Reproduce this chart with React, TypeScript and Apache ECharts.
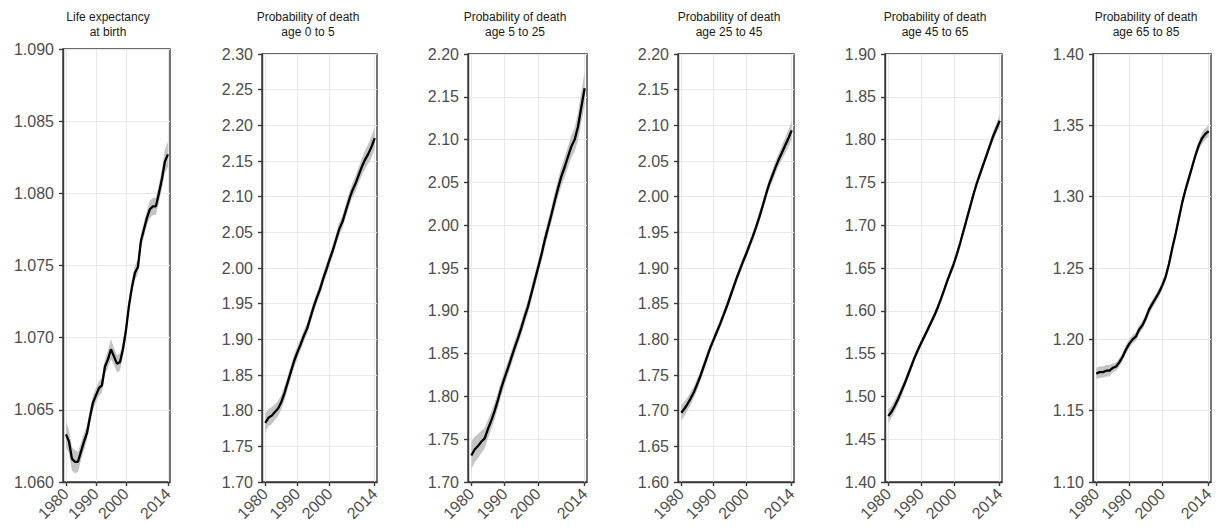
import React, { useEffect, useRef } from 'react';
import * as echarts from 'echarts';

const years = [1980, 1981, 1982, 1983, 1984, 1985, 1986, 1987, 1988, 1989, 1990, 1991, 1992, 1993, 1994, 1995, 1996, 1997, 1998, 1999, 2000, 2001, 2002, 2003, 2004, 2005, 2006, 2007, 2008, 2009, 2010, 2011, 2012, 2013, 2014];
const xTickYears = [1980, 1990, 2000, 2014];

const panelTitles = [
  'Life expectancy\nat birth',
  'Probability of death\nage 0 to 5',
  'Probability of death\nage 5 to 25',
  'Probability of death\nage 25 to 45',
  'Probability of death\nage 45 to 65',
  'Probability of death\nage 65 to 85',
];
const yMins = [1.06, 1.7, 1.7, 1.6, 1.4, 1.1];
const yMaxs = [1.09, 2.3, 2.2, 2.2, 1.9, 1.4];
const yIntervals = [0.005, 0.05, 0.05, 0.05, 0.05, 0.05];
const yDecimals = [3, 2, 2, 2, 2, 2];

const lifeExpBirth = [1.0633, 1.0628, 1.0616, 1.0614, 1.0614, 1.0621, 1.0628, 1.0634, 1.0645, 1.0655, 1.066, 1.0665, 1.0667, 1.068, 1.0685, 1.0692, 1.0687, 1.0682, 1.0683, 1.0692, 1.0705, 1.0722, 1.0735, 1.0745, 1.0749, 1.0767, 1.0775, 1.0783, 1.0789, 1.0791, 1.0791, 1.08, 1.081, 1.0822, 1.0827];
const lifeExpBirthBand = [0.0009, 0.0008, 0.0008, 0.0008, 0.0007, 0.0006, 0.0006, 0.0005, 0.0005, 0.0005, 0.0005, 0.0005, 0.0005, 0.0005, 0.0006, 0.0007, 0.0006, 0.0006, 0.0006, 0.0005, 0.0005, 0.0005, 0.0005, 0.0005, 0.0005, 0.0005, 0.0005, 0.0005, 0.0006, 0.0006, 0.0006, 0.0006, 0.0007, 0.0008, 0.0009];

const death0to5 = [1.783, 1.79, 1.793, 1.798, 1.803, 1.812, 1.825, 1.84, 1.855, 1.87, 1.882, 1.893, 1.905, 1.915, 1.93, 1.945, 1.958, 1.97, 1.985, 1.998, 2.012, 2.025, 2.04, 2.055, 2.065, 2.08, 2.095, 2.108, 2.118, 2.13, 2.142, 2.152, 2.16, 2.17, 2.182];
const death0to5Band = [0.013, 0.012, 0.012, 0.011, 0.011, 0.01, 0.01, 0.009, 0.009, 0.009, 0.009, 0.008, 0.008, 0.008, 0.008, 0.008, 0.008, 0.008, 0.008, 0.008, 0.008, 0.008, 0.008, 0.009, 0.009, 0.009, 0.01, 0.01, 0.011, 0.011, 0.012, 0.013, 0.014, 0.015, 0.016];

const death5to25 = [1.731, 1.738, 1.742, 1.747, 1.751, 1.762, 1.772, 1.783, 1.796, 1.81, 1.822, 1.833, 1.845, 1.857, 1.868, 1.88, 1.893, 1.905, 1.92, 1.935, 1.95, 1.965, 1.982, 1.997, 2.012, 2.028, 2.043, 2.057, 2.068, 2.08, 2.092, 2.1, 2.115, 2.138, 2.16];
const death5to25Band = [0.016, 0.015, 0.014, 0.013, 0.012, 0.011, 0.01, 0.01, 0.009, 0.009, 0.009, 0.008, 0.008, 0.008, 0.008, 0.008, 0.008, 0.008, 0.008, 0.008, 0.008, 0.008, 0.009, 0.009, 0.009, 0.01, 0.01, 0.011, 0.012, 0.012, 0.013, 0.014, 0.016, 0.018, 0.02];

const death25to45 = [1.697, 1.703, 1.71, 1.718, 1.727, 1.738, 1.75, 1.763, 1.776, 1.789, 1.8, 1.811, 1.822, 1.834, 1.846, 1.859, 1.872, 1.885, 1.897, 1.909, 1.92, 1.932, 1.944, 1.957, 1.971, 1.986, 2.002, 2.017, 2.029, 2.041, 2.052, 2.062, 2.072, 2.082, 2.093];
const death25to45Band = [0.011, 0.01, 0.009, 0.009, 0.008, 0.008, 0.007, 0.007, 0.007, 0.006, 0.006, 0.006, 0.006, 0.006, 0.006, 0.006, 0.006, 0.006, 0.006, 0.006, 0.006, 0.006, 0.006, 0.006, 0.007, 0.007, 0.007, 0.008, 0.008, 0.009, 0.009, 0.01, 0.011, 0.012, 0.013];

const death45to65 = [1.477, 1.482, 1.489, 1.497, 1.506, 1.515, 1.525, 1.535, 1.545, 1.554, 1.562, 1.57, 1.578, 1.586, 1.594, 1.603, 1.613, 1.624, 1.635, 1.645, 1.655, 1.667, 1.68, 1.694, 1.708, 1.722, 1.736, 1.749, 1.76, 1.771, 1.782, 1.793, 1.804, 1.813, 1.822];
const death45to65Band = [0.008, 0.007, 0.007, 0.006, 0.006, 0.005, 0.005, 0.005, 0.004, 0.004, 0.004, 0.004, 0.004, 0.004, 0.004, 0.004, 0.004, 0.004, 0.004, 0.004, 0.004, 0.004, 0.004, 0.004, 0.004, 0.004, 0.004, 0.004, 0.005, 0.005, 0.005, 0.005, 0.006, 0.006, 0.007];

const death65to85 = [1.176, 1.177, 1.177, 1.178, 1.178, 1.18, 1.181, 1.184, 1.188, 1.193, 1.197, 1.2, 1.202, 1.207, 1.21, 1.215, 1.221, 1.225, 1.229, 1.233, 1.238, 1.244, 1.253, 1.264, 1.274, 1.285, 1.296, 1.305, 1.313, 1.321, 1.329, 1.336, 1.341, 1.344, 1.346];
const death65to85Band = [0.004, 0.004, 0.004, 0.004, 0.004, 0.003, 0.003, 0.003, 0.003, 0.003, 0.003, 0.003, 0.003, 0.003, 0.003, 0.003, 0.003, 0.003, 0.003, 0.003, 0.003, 0.003, 0.003, 0.003, 0.003, 0.003, 0.003, 0.003, 0.003, 0.003, 0.003, 0.003, 0.004, 0.004, 0.004];

const panelValues = [lifeExpBirth, death0to5, death5to25, death25to45, death45to65, death65to85];
const panelBands = [lifeExpBirthBand, death0to5Band, death5to25Band, death25to45Band, death45to65Band, death65to85Band];

// layout (pixels): plot-area boxes and title centres
const gridBoxes = [
  { left: 63, top: 49, width: 107, height: 433 },
  { left: 262, top: 54, width: 115, height: 428 },
  { left: 468, top: 54, width: 119, height: 428 },
  { left: 678, top: 54, width: 116, height: 428 },
  { left: 885, top: 54, width: 117, height: 428 },
  { left: 1093, top: 54, width: 118, height: 428 },
];
const titleCentres = [108, 308, 515, 729, 935, 1146];

const FONT = '"Liberation Sans", Arial, Helvetica, sans-serif';

export default function App() {
  const ref = useRef<HTMLDivElement>(null);

  useEffect(() => {
    if (!ref.current) return;
    const chart = echarts.init(ref.current, undefined, { renderer: 'svg' });

    const grids: any[] = [];
    const xAxes: any[] = [];
    const yAxes: any[] = [];
    const series: any[] = [];
    const graphics: any[] = [];

    panelValues.forEach((vals, i) => {
      const band = panelBands[i];
      grids.push({
        ...gridBoxes[i],
        containLabel: false,
        show: true,
        borderColor: '#3a3a3a',
        borderWidth: 1.4,
        backgroundColor: 'transparent',
      });
      xAxes.push({
        type: 'value',
        gridIndex: i,
        min: 1979,
        max: 2014.7,
        axisLine: { show: true, lineStyle: { color: '#3a3a3a', width: 1.4 } },
        axisTick: {
          show: true,
          customValues: xTickYears,
          length: 4,
          lineStyle: { color: '#3a3a3a', width: 1.4 },
        },
        axisLabel: {
          customValues: xTickYears,
          rotate: 45,
          margin: 9,
          fontSize: 16,
          color: '#4d4d4d',
          fontFamily: FONT,
          formatter: (v: number) => String(Math.round(v)),
        },
        splitLine: { show: true, lineStyle: { color: '#e8e8e8', width: 1 } },
      });
      yAxes.push({
        type: 'value',
        gridIndex: i,
        min: yMins[i],
        max: yMaxs[i],
        interval: yIntervals[i],
        axisLine: { show: true, lineStyle: { color: '#3a3a3a', width: 1.4 } },
        axisTick: { show: true, length: 4, lineStyle: { color: '#3a3a3a', width: 1.4 } },
        axisLabel: {
          margin: 9,
          fontSize: 16,
          color: '#4d4d4d',
          fontFamily: FONT,
          formatter: (v: number) => v.toFixed(yDecimals[i]),
        },
        splitLine: { show: true, lineStyle: { color: '#e8e8e8', width: 1 } },
      });
      const bandData = years.map((y, j) => [y, vals[j] - band[j], vals[j] + band[j]]);
      series.push({
        type: 'custom',
        xAxisIndex: i,
        yAxisIndex: i,
        silent: true,
        z: 2,
        data: bandData,
        encode: { x: 0, y: [1, 2] },
        renderItem: (params: any, api: any) => {
          if (params.dataIndex !== 0) return null;
          const upper = bandData.map((d) => api.coord([d[0], d[2]]));
          const lower = bandData.map((d) => api.coord([d[0], d[1]])).reverse();
          return {
            type: 'polygon',
            shape: { points: upper.concat(lower) },
            style: { fill: '#c4c4c4', stroke: 'none' },
          };
        },
      });
      series.push({
        type: 'line',
        xAxisIndex: i,
        yAxisIndex: i,
        symbol: 'none',
        silent: true,
        lineStyle: { color: '#000000', width: 2.3 },
        data: years.map((y, j) => [y, vals[j]]),
        z: 5,
      });
      graphics.push({
        type: 'text',
        x: titleCentres[i],
        y: 9,
        style: {
          text: panelTitles[i],
          textAlign: 'center',
          textVerticalAlign: 'top',
          fontSize: 12,
          lineHeight: 15,
          fill: '#1a1a1a',
          fontFamily: FONT,
        },
      });
    });

    chart.setOption({
      animation: false,
      backgroundColor: '#ffffff',
      grid: grids,
      xAxis: xAxes,
      yAxis: yAxes,
      series,
      graphic: graphics,
    });

    return () => {
      chart.dispose();
    };
  }, []);

  return (
    <div
      ref={ref}
      style={{ position: 'fixed', left: 0, top: 0, width: 1226, height: 531, background: '#fff' }}
    />
  );
}
